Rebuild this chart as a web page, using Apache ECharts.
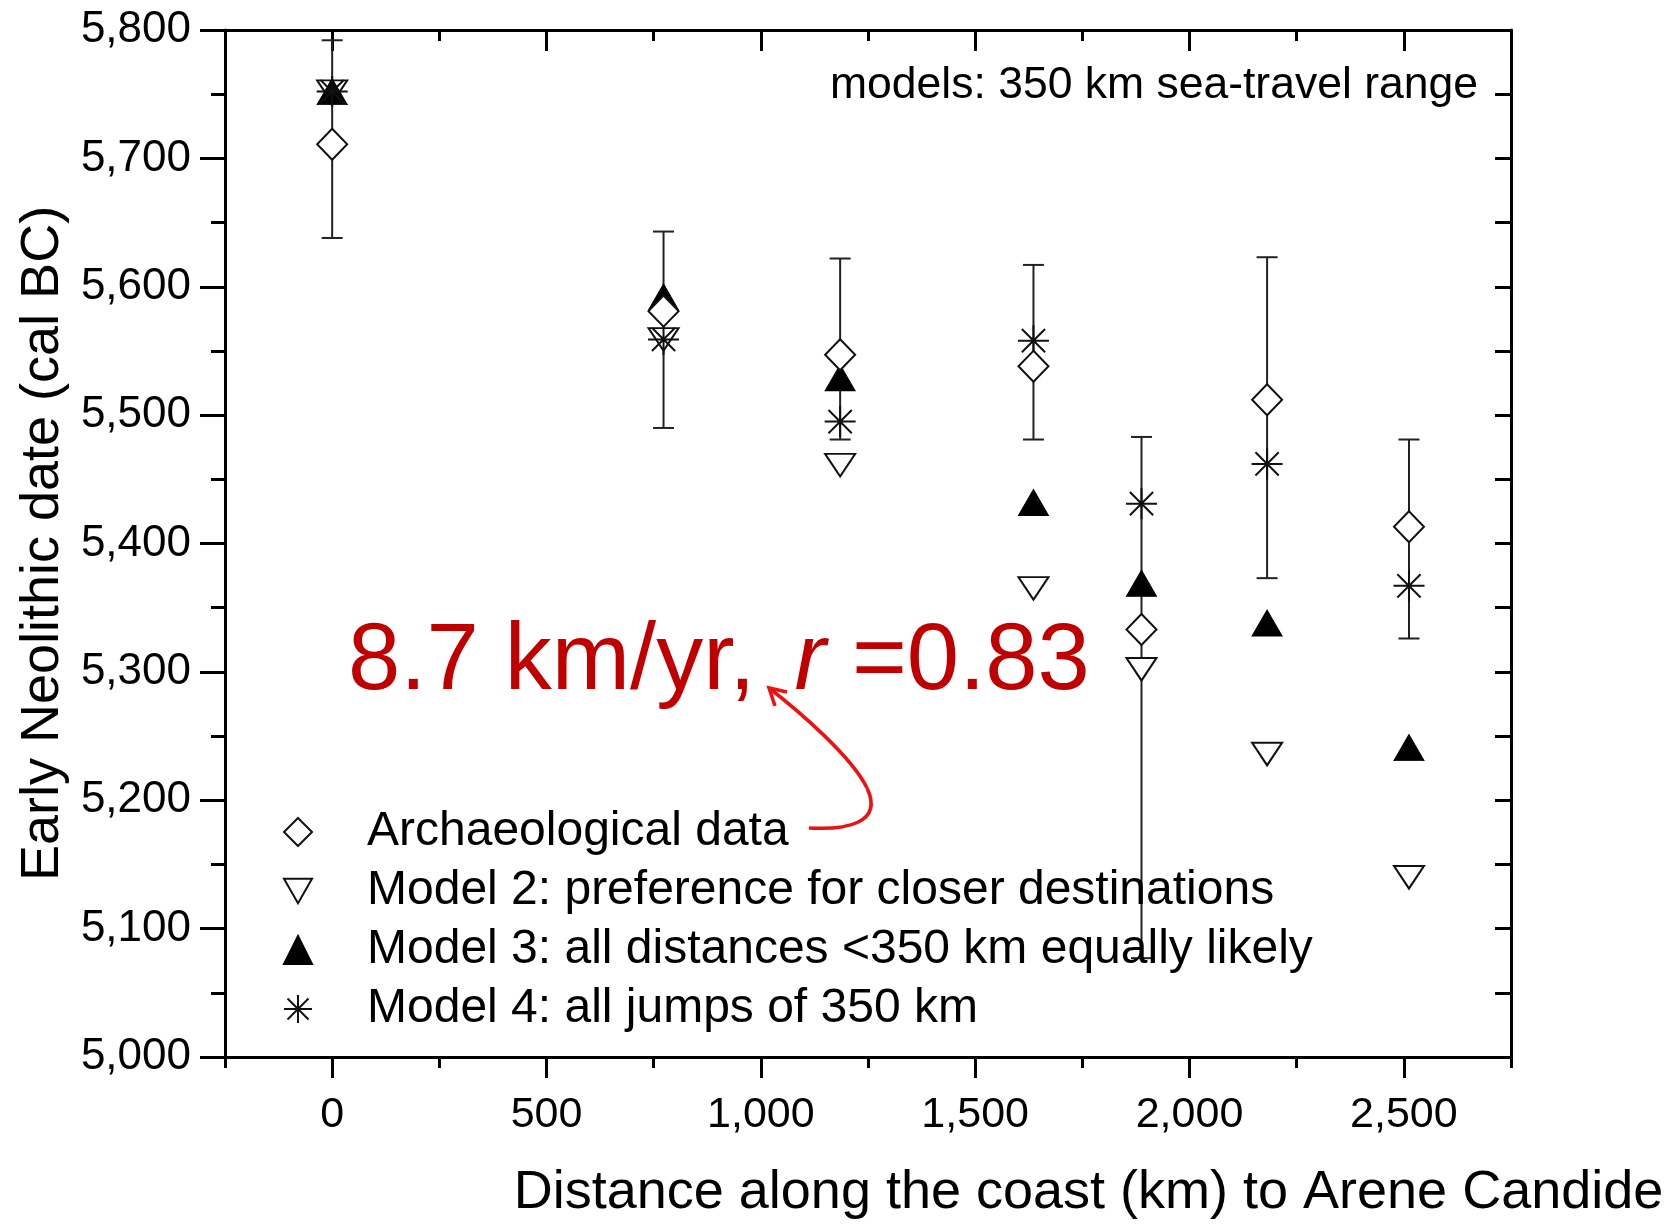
<!DOCTYPE html>
<html>
<head>
<meta charset="utf-8">
<script src="https://cdn.jsdelivr.net/npm/echarts@6/dist/echarts.min.js"></script>
<style>
  html, body { margin: 0; padding: 0; background: #ffffff; }
  #chart { width: 1680px; height: 1225px; }
</style>
</head>
<body>
<div id="chart"></div>
<script>
// Distance of each site along the coast from Arene Candide (km)
const distance = [0, 773, 1185, 1636, 1888, 2181, 2512];

// Archaeological dates (cal BC) with their error ranges
const archaeo     = [5711, 5581, 5547, 5538, 5333, 5512, 5413];
const archaeoLow  = [5638, 5490, 5481, 5481, 5077, 5373, 5326];
const archaeoHigh = [5792, 5643, 5622, 5617, 5483, 5623, 5481];

// Model predictions (cal BC)
const model2 = [5752, 5559, 5461, 5365, 5302, 5236, 5140];
const model3 = [5752, 5592, 5529, 5432, 5369, 5338, 5241];
const model4 = [5752, 5559, 5495, 5558, 5431, 5462, 5367];

// Tick positions on the distance axis
const xMajorTicks = [0, 500, 1000, 1500, 2000, 2500];
const xMinorTicks = [-250, 250, 750, 1250, 1750, 2250, 2750];

const seriesNames = [
  'Archaeological data',
  'Model 2: preference for closer destinations',
  'Model 3: all distances <350 km equally likely',
  'Model 4: all jumps of 350 km'
];

const FONT = '"Liberation Sans", Arial, Helvetica, sans-serif';
const withCommas = v => String(v).replace(/\B(?=(\d{3})+(?!\d))/g, ',');

const ASTERISK = 'path://M0,10L20,10M10,0L10,20M2.5,2.5L17.5,17.5M17.5,2.5L2.5,17.5';
const TRI_DOWN = 'path://M0,0L30,0L15,26Z';

const pairs = ys => distance.map((d, i) => [d, ys[i]]);

const axisLineStyle = { color: '#000', width: 3 };
const ARROW_RED = '#ee1111';

const chart = echarts.init(document.getElementById('chart'), null, { renderer: 'canvas' });

chart.setOption({
  animation: false,
  backgroundColor: '#ffffff',
  textStyle: { fontFamily: FONT },
  grid: { left: 225, right: 169, top: 30, bottom: 160, containLabel: false },
  xAxis: [
    {
      type: 'value', min: -250, max: 2750, position: 'bottom',
      axisLine: { show: true, onZero: false, lineStyle: axisLineStyle },
      axisTick: { show: true, customValues: xMajorTicks, length: 21, lineStyle: { color: '#000', width: 3 } },
      axisLabel: { customValues: xMajorTicks, formatter: withCommas, fontSize: 43, color: '#000', margin: 37, fontFamily: FONT },
      splitLine: { show: false },
      name: 'Distance along the coast (km) to Arene Candide',
      nameLocation: 'middle', nameGap: 109,
      nameTextStyle: { fontSize: 54, color: '#000', fontFamily: FONT, padding: [0, 0, 0, 441] }
    },
    {
      type: 'value', min: -250, max: 2750, position: 'bottom',
      axisLine: { show: false },
      axisTick: { show: true, customValues: xMinorTicks, length: 11, lineStyle: { color: '#000', width: 3 } },
      axisLabel: { show: false },
      splitLine: { show: false }
    },
    {
      type: 'value', min: -250, max: 2750, position: 'top',
      axisLine: { show: true, onZero: false, lineStyle: axisLineStyle },
      axisTick: { show: true, inside: true, customValues: xMajorTicks, length: 21, lineStyle: { color: '#000', width: 3 } },
      axisLabel: { show: false },
      splitLine: { show: false }
    },
    {
      type: 'value', min: -250, max: 2750, position: 'top',
      axisLine: { show: false },
      axisTick: { show: true, inside: true, customValues: xMinorTicks, length: 11, lineStyle: { color: '#000', width: 3 } },
      axisLabel: { show: false },
      splitLine: { show: false }
    }
  ],
  yAxis: [
    {
      type: 'value', min: 5000, max: 5800, interval: 100, position: 'left',
      axisLine: { show: true, onZero: false, lineStyle: axisLineStyle },
      axisTick: { show: true, length: 25, lineStyle: { color: '#000', width: 3 } },
      minorTick: { show: true, splitNumber: 2, length: 14, lineStyle: { color: '#000', width: 3 } },
      axisLabel: { formatter: withCommas, fontSize: 44, color: '#000', margin: 34, fontFamily: FONT },
      splitLine: { show: false },
      name: 'Early Neolithic date (cal BC)',
      nameLocation: 'middle', nameRotate: 90, nameGap: 154,
      nameTextStyle: { fontSize: 54, color: '#000', fontFamily: FONT }
    },
    {
      type: 'value', min: 5000, max: 5800, interval: 100, position: 'right',
      axisLine: { show: true, onZero: false, lineStyle: axisLineStyle },
      axisTick: { show: true, inside: true, length: 16, lineStyle: { color: '#000', width: 3 } },
      minorTick: { show: true, splitNumber: 2, length: 16, lineStyle: { color: '#000', width: 3 } },
      axisLabel: { show: false },
      splitLine: { show: false }
    }
  ],
  legend: {
    orient: 'vertical',
    left: 278, top: 803,
    itemWidth: 28, itemHeight: 28, itemGap: 11,
    selectedMode: false,
    data: seriesNames,
    textStyle: { fontSize: 48, lineHeight: 48, color: '#000', fontFamily: FONT, padding: [0, 0, 0, 50] }
  },
  series: [
    {
      // vertical error bars with caps for the archaeological ranges
      type: 'custom',
      name: 'range',
      xAxisIndex: 0, yAxisIndex: 0,
      z: 2,
      silent: true,
      data: distance.map((d, i) => [d, archaeoLow[i], archaeoHigh[i]]),
      encode: { x: 0, y: [1, 2] },
      renderItem: (params, api) => {
        const lo = api.coord([api.value(0), api.value(1)]);
        const hi = api.coord([api.value(0), api.value(2)]);
        const half = 10.5;
        const st = { stroke: '#222', lineWidth: 2 };
        return {
          type: 'group',
          children: [
            { type: 'line', shape: { x1: lo[0], y1: lo[1], x2: hi[0], y2: hi[1] }, style: st },
            { type: 'line', shape: { x1: lo[0] - half, y1: lo[1], x2: lo[0] + half, y2: lo[1] }, style: st },
            { type: 'line', shape: { x1: hi[0] - half, y1: hi[1], x2: hi[0] + half, y2: hi[1] }, style: st }
          ]
        };
      }
    },
    {
      type: 'scatter', name: seriesNames[1], z: 3, silent: true,
      symbol: TRI_DOWN, symbolSize: [30, 26], symbolKeepAspect: true,
      itemStyle: { color: '#ffffff', borderColor: '#111', borderWidth: 2, opacity: 1 },
      data: pairs(model2)
    },
    {
      type: 'scatter', name: seriesNames[2], z: 4, silent: true,
      symbol: 'triangle', symbolSize: [30, 26],
      itemStyle: { color: '#000000', borderColor: '#000', borderWidth: 1, opacity: 1 },
      data: pairs(model3)
    },
    {
      type: 'scatter', name: seriesNames[3], z: 5, silent: true,
      symbol: ASTERISK, symbolSize: [31, 31], symbolKeepAspect: true,
      itemStyle: { color: 'rgba(255,255,255,0)', borderColor: '#111', borderWidth: 2, opacity: 1 },
      data: pairs(model4)
    },
    {
      type: 'scatter', name: seriesNames[0], z: 6, silent: true,
      symbol: 'diamond', symbolSize: [30, 31],
      itemStyle: { color: '#ffffff', borderColor: '#111', borderWidth: 2, opacity: 1 },
      data: pairs(archaeo)
    }
  ],
  graphic: [
    {
      type: 'text', x: 1478, y: 86, z: 10, silent: true,
      style: {
        text: 'models: 350 km sea-travel range',
        font: '44.5px ' + FONT, fill: '#000',
        textAlign: 'right', textVerticalAlign: 'middle'
      }
    },
    {
      type: 'text', x: 348, y: 663, z: 10, silent: true,
      style: {
        text: '{a|8.7 km/yr, }{i|r}{a| =0.83}',
        textVerticalAlign: 'middle',
        rich: {
          a: { fontSize: 94, fontFamily: FONT, fill: '#c00000' },
          i: { fontSize: 94, fontFamily: FONT, fontStyle: 'italic', fill: '#c00000', padding: [0, 0, 0, 13] }
        }
      }
    },
    {
      // curved arrow from the legend entry up to the rate annotation
      type: 'bezierCurve', z: 10, silent: true,
      shape: { x1: 809, y1: 828, cpx1: 845, cpy1: 830, cpx2: 884, cpy2: 824, x2: 867, y2: 788 },
      style: { fill: 'none', stroke: ARROW_RED, lineWidth: 3.5 }
    },
    {
      type: 'bezierCurve', z: 10, silent: true,
      shape: { x1: 867, y1: 788, cpx1: 852, cpy1: 757, cpx2: 800, cpy2: 712, x2: 769, y2: 688 },
      style: { fill: 'none', stroke: ARROW_RED, lineWidth: 3.5 }
    },
    {
      type: 'polyline', z: 10, silent: true,
      shape: { points: [[775, 706], [769, 688], [787, 692]] },
      style: { fill: 'none', stroke: ARROW_RED, lineWidth: 3.5 }
    }
  ]
});
</script>
</body>
</html>
